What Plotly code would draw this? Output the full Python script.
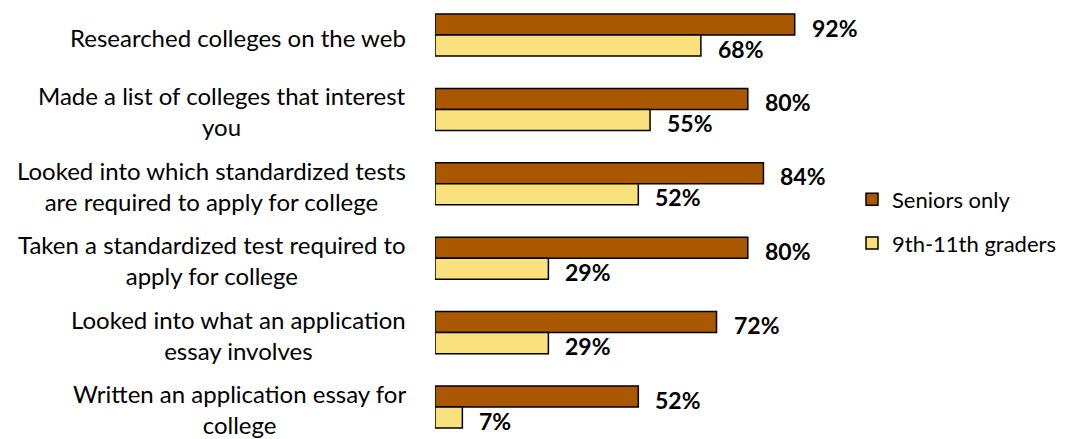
import plotly.graph_objects as go

categories = [
    "Researched colleges on the web",
    "Made a list of colleges that interest<br>you",
    "Looked into which standardized tests<br>are required to apply for college",
    "Taken a standardized test required to<br>apply for college",
    "Looked into what an application<br>essay involves",
    "Written an application essay for<br>college",
]
seniors = [92, 80, 84, 80, 72, 52]
graders = [68, 55, 52, 29, 29, 7]
series_names = ["Seniors only", "9th-11th graders"]
colors = ["#A95800", "#F9E17E"]

FONT = "Lato"
ypos = list(range(len(categories)))

fig = go.Figure()
for name, vals, col in zip(series_names, [seniors, graders], colors):
    fig.add_trace(go.Bar(
        y=ypos, x=vals, orientation="h", name=name,
        marker=dict(color=col, line=dict(color="black", width=1.5)),
        legendgroup=name,
    ))

bw = 0.5 * (1 - 0.435)
annotations = []
for i, (s, g) in enumerate(zip(seniors, graders)):
    annotations.append(dict(x=s, y=i - bw / 2, text=f"<b>{s}%</b>", showarrow=False,
                            xanchor="left", xshift=15, yshift=-3,
                            font=dict(family=FONT, size=23, color="black")))
    annotations.append(dict(x=g, y=i + bw / 2, text=f"<b>{g}%</b>", showarrow=False,
                            xanchor="left", xshift=15, yshift=-3,
                            font=dict(family=FONT, size=23, color="black")))
    annotations.append(dict(x=0, xref="paper", y=i, text=categories[i], showarrow=False,
                            xanchor="right", align="center", xshift=-27, yshift=-2,
                            font=dict(family=FONT, size=24, color="black")))

fig.update_layout(
    width=1066, height=431,
    margin=dict(l=427, r=248, t=0, b=0),
    paper_bgcolor="white", plot_bgcolor="white",
    barmode="group", bargap=0.435, bargroupgap=0,
    xaxis=dict(range=[0, 100], visible=False),
    yaxis=dict(range=[5.43, -0.363], showticklabels=False, showgrid=False,
               zeroline=False, showline=False, ticks=""),
    legend=dict(x=1.0665, y=0.5046, xanchor="left", yanchor="middle",
                font=dict(family=FONT, size=22, color="black"),
                tracegroupgap=12, itemwidth=30, traceorder="grouped"),
    annotations=annotations,
    font=dict(family=FONT),
)

fig.write_html("out.html")
